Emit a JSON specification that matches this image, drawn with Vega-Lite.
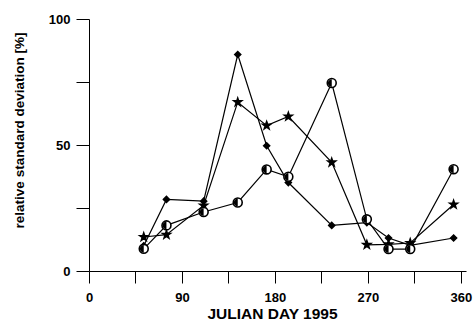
{
  "$schema": "https://vega.github.io/schema/vega-lite/v6.json",
  "autosize": "none",
  "width": 377,
  "height": 252,
  "padding": {"left": 89, "top": 19, "right": 7, "bottom": 53},
  "background": "white",
  "config": {
    "view": {"stroke": null},
    "font": "Liberation Sans",
    "axis": {"grid": false, "domainColor": "black", "tickColor": "black", "labelColor": "black", "titleColor": "black", "labelFont": "Liberation Sans", "labelFontWeight": "bold", "titleFont": "Liberation Sans", "titleFontWeight": "bold", "domainWidth": 1, "tickWidth": 1}
  },
  "data": {
    "values": [
      {"day": 53, "val": 10.0, "series": "A"},
      {"day": 75, "val": 28.4, "series": "A"},
      {"day": 111, "val": 27.7, "series": "A"},
      {"day": 144, "val": 85.9, "series": "A"},
      {"day": 172, "val": 49.7, "series": "A"},
      {"day": 193, "val": 35.1, "series": "A"},
      {"day": 235, "val": 18.1, "series": "A"},
      {"day": 269, "val": 19.2, "series": "A"},
      {"day": 290, "val": 13.1, "series": "A"},
      {"day": 311, "val": 10.2, "series": "A"},
      {"day": 353, "val": 13.1, "series": "A"},
      {"day": 53, "val": 13.5, "series": "B"},
      {"day": 75, "val": 14.4, "series": "B"},
      {"day": 111, "val": 26.0, "series": "B"},
      {"day": 144, "val": 67.0, "series": "B"},
      {"day": 172, "val": 57.7, "series": "B"},
      {"day": 193, "val": 61.3, "series": "B"},
      {"day": 235, "val": 43.1, "series": "B"},
      {"day": 269, "val": 10.4, "series": "B"},
      {"day": 290, "val": 10.6, "series": "B"},
      {"day": 311, "val": 11.1, "series": "B"},
      {"day": 353, "val": 26.4, "series": "B"},
      {"day": 53, "val": 8.8, "series": "C"},
      {"day": 75, "val": 18.1, "series": "C"},
      {"day": 111, "val": 23.4, "series": "C"},
      {"day": 144, "val": 27.2, "series": "C"},
      {"day": 172, "val": 40.3, "series": "C"},
      {"day": 193, "val": 37.4, "series": "C"},
      {"day": 235, "val": 74.6, "series": "C"},
      {"day": 269, "val": 20.5, "series": "C"},
      {"day": 290, "val": 8.7, "series": "C"},
      {"day": 311, "val": 8.7, "series": "C"},
      {"day": 353, "val": 40.4, "series": "C"}
    ]
  },
  "encoding": {
    "x": {
      "field": "day", "type": "quantitative",
      "scale": {"domain": [0, 365], "nice": false, "zero": false},
      "axis": {
        "title": "JULIAN DAY 1995",
        "values": [0, 45, 90, 135, 180, 225, 270, 315, 360],
        "labelExpr": "datum.value % 90 === 0 ? datum.label : ''",
        "tickSize": 12,
        "encode": {"ticks": {"update": {"y2": {"signal": "datum.value % 90 === 0 ? 12 : 7"}}}},
        "labelFontSize": 13,
        "labelPadding": 8,
        "titleFontSize": 15.5,
        "titlePadding": 2,
        "titleX": 183,
        "labelFlush": false,
        "labelOverlap": false
      }
    },
    "y": {
      "field": "val", "type": "quantitative",
      "scale": {"domain": [0, 100], "nice": false},
      "axis": {
        "title": "relative standard deviation [%]",
        "values": [0, 25, 50, 75, 100],
        "labelExpr": "datum.value % 50 === 0 ? datum.label : ''",
        "tickSize": 13,
        "encode": {"ticks": {"update": {"x2": {"signal": "datum.value % 50 === 0 ? -13 : -7"}}}},
        "labelFontSize": 13,
        "labelPadding": 6,
        "titleFontSize": 13.5,
        "titlePadding": 22,
        "titleY": 111,
        "labelFlush": false,
        "labelOverlap": false
      }
    }
  },
  "layer": [
    {
      "mark": {"type": "line", "color": "black", "strokeWidth": 1.2},
      "encoding": {"detail": {"field": "series"}}
    },
    {
      "mark": {"type": "point", "filled": false, "stroke": "black", "strokeWidth": 1.6, "opacity": 1},
      "encoding": {
        "shape": {"field": "series", "type": "nominal", "scale": {"domain": ["A", "B", "C"], "range": ["diamond", "M0,-1.05L0.25,-0.33L1,-0.33L0.4,0.12L0.62,0.85L0,0.4L-0.62,0.85L-0.4,0.12L-1,-0.33L-0.25,-0.33Z", "circle"]}, "legend": null},
        "fill": {"field": "series", "type": "nominal", "scale": {"domain": ["A", "B", "C"], "range": ["black", "black", "white"]}, "legend": null},
        "size": {"field": "series", "type": "nominal", "scale": {"domain": ["A", "B", "C"], "range": [35, 80, 60]}, "legend": null}
      }
    },
    {
      "transform": [{"filter": "datum.series === 'C'"}],
      "mark": {"type": "point", "shape": "M0,-1A1,1 0 0,0 0,1Z", "filled": true, "color": "black", "size": 60, "opacity": 1}
    }
  ]
}
